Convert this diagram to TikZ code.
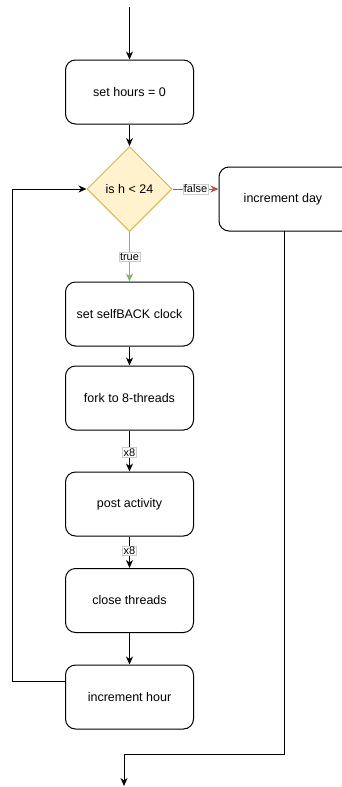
\documentclass[tikz,border=0pt]{standalone}
\usepackage{fontspec}
\setmainfont{Liberation Sans}
\usetikzlibrary{shapes.geometric,arrows.meta}
\definecolor{decfill}{HTML}{FFF2CC}
\definecolor{decline}{HTML}{D6B656}
\definecolor{nored}{HTML}{B85450}
\definecolor{yesgreen}{HTML}{82B366}
\begin{document}
\begin{tikzpicture}[x=1pt,y=-1pt,
  line width=1pt,
  every node/.style={font=\fontsize{12.5}{14}\selectfont},
  stepbox/.style={draw, rounded corners=10pt, minimum width=128pt, minimum height=64pt, inner sep=0pt, fill=white},
  decision/.style={draw=decline, fill=decfill, diamond, minimum width=85pt, minimum height=85pt, inner sep=0pt},
  flow/.style={-{Stealth[length=8pt,width=7pt,inset=2.5pt]}},
  edgelabel/.style={font=\fontsize{11}{12}\selectfont, fill=white, draw=black!20, line width=0.5pt, inner sep=1pt}
]
\useasboundingbox (0,0) rectangle (341,787);

% entry point and the day's starting value
\coordinate (entry) at (129.5,7);
\node[stepbox] (hzero) at (129.5,92) {set hours = 0};
\node[decision] (check) at (129.5,189) {is h < 24};
\node[stepbox, minimum width=140pt] (incday) at (289,199) {\hspace*{-12pt}increment day};

% per-hour work
\node[stepbox] (clock) at (129.5,314) {set selfBACK clock};
\node[stepbox] (fork) at (129.5,398) {fork to 8-threads};
\node[stepbox] (post) at (129.5,504) {post activity};
\node[stepbox] (close) at (129.5,600.5) {close threads};
\node[stepbox] (inchour) at (129.5,697) {increment hour};

% exit
\coordinate (exit) at (124,786);
\coordinate (dayout) at (284,231);

\draw[flow] (entry) -- (hzero);
\draw[flow] (hzero) -- (check);
\draw[flow, draw=nored, fill=nored] (check.east) -- (check.east -| incday.west)
  node[midway, edgelabel, text=black] {false};
\draw[flow, draw=yesgreen, fill=yesgreen] (check) -- (clock)
  node[pos=0.5, edgelabel, text=black] {true};
\draw[flow] (clock) -- (fork);
\draw[flow] (fork) -- (post) node[pos=0.53, edgelabel] {x8};
\draw[flow] (post) -- (close) node[pos=0.45, edgelabel] {x8};
\draw[flow] (close) -- (inchour);

% loop back to the test after each hour
\draw[flow] ([yshift=16pt]inchour.west) -- ++(-53,0) |- (check.west);

% leaving the loop once the day is complete
\draw[flow] (dayout) -- (dayout |- 0,754) -| (exit);
\end{tikzpicture}
\end{document}
